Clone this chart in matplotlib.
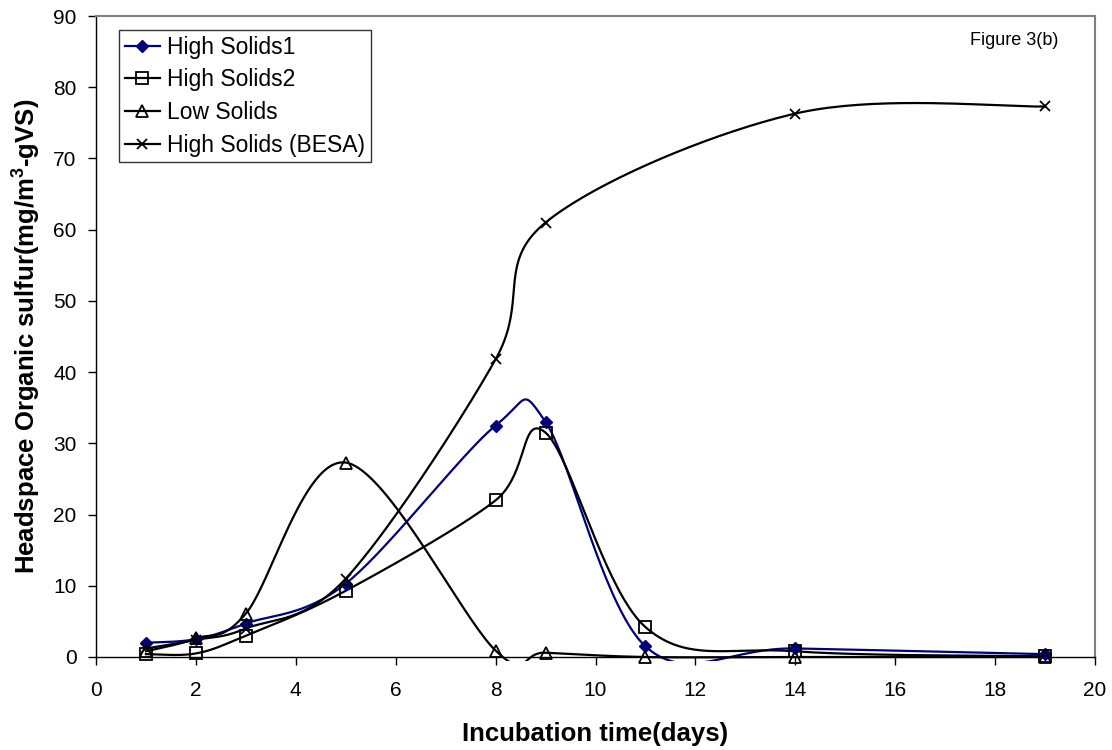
import numpy as np
import matplotlib
matplotlib.use("Agg")
import matplotlib.pyplot as plt
from matplotlib.patches import Rectangle

plt.rcParams['font.family'] = ['Liberation Sans', 'DejaVu Sans']

days_hs1 = [1, 2, 3, 5, 8, 9, 11, 14, 19]
high_solids1 = [2.0, 2.5, 4.7, 10.3, 32.5, 33.0, 1.5, 1.2, 0.4]
days_hs2 = [1, 2, 3, 5, 8, 9, 11, 14, 19]
high_solids2 = [0.4, 0.5, 3.0, 9.3, 22.0, 31.5, 4.2, 0.8, 0.1]
days_ls = [1, 2, 3, 5, 8, 9, 11, 14, 19]
low_solids = [0.8, 2.6, 6.1, 27.3, 0.9, 0.6, 0.0, 0.0, 0.0]
days_besa = [1, 2, 3, 5, 8, 9, 14, 19]
high_solids_besa = [1.2, 2.4, 4.0, 11.0, 41.8, 61.0, 76.3, 77.3]

xticks = list(range(0, 21, 2))
yticks = list(range(0, 91, 10))

AX_L, AX_R, AX_T, AX_B = 96, 1095, 16, 657


def smooth(x, y, n=40):
    # Excel-like smoothed line: cubic Bezier with Catmull-Rom style control points
    x = np.asarray(x, float)
    y = np.asarray(y, float)
    sx, sy = (AX_R - AX_L) / 20.0, (AX_B - AX_T) / 90.0
    P = np.column_stack([x * sx, y * sy])
    out = [P[0]]
    m = len(P)
    for i in range(m - 1):
        p0 = P[i - 1] if i > 0 else P[i]
        p1 = P[i]
        p2 = P[i + 1]
        p3 = P[i + 2] if i + 2 < m else P[i + 1]
        c1 = p1 + (p2 - p0) / 6.0
        c2 = p2 - (p3 - p1) / 6.0
        t = np.linspace(0, 1, n)[1:, None]
        seg = ((1 - t) ** 3) * p1 + 3 * ((1 - t) ** 2) * t * c1 + 3 * (1 - t) * t ** 2 * c2 + t ** 3 * p2
        out.extend(seg)
    out = np.array(out)
    return out[:, 0] / sx, out[:, 1] / sy


fig = plt.figure(figsize=(11.12, 7.5), dpi=100)
ax = fig.add_axes([AX_L / 1112, 1 - AX_B / 750, (AX_R - AX_L) / 1112, (AX_B - AX_T) / 750])

clip_rect = Rectangle((0, -0.006), 1, 1.006, transform=ax.transAxes, facecolor='none', edgecolor='none')
ax.add_patch(clip_rect)

series = [
    (days_hs1, high_solids1, 'High Solids1', '#000080', dict(marker='D', markersize=6, markerfacecolor='#000080', markeredgecolor='#000080')),
    (days_hs2, high_solids2, 'High Solids2', 'black', dict(marker='s', markersize=8, markerfacecolor='none', markeredgecolor='black', markeredgewidth=1.3)),
    (days_ls, low_solids, 'Low Solids', 'black', dict(marker='^', markersize=8, markerfacecolor='none', markeredgecolor='black', markeredgewidth=1.3)),
    (days_besa, high_solids_besa, 'High Solids (BESA)', 'black', dict(marker='x', markersize=7, markeredgecolor='black', markeredgewidth=1.3)),
]

handles = []
for xs, ys, label, col, mk in series:
    sx_, sy_ = smooth(xs, ys)
    ln, = ax.plot(sx_, sy_, color=col, lw=1.6, zorder=2)
    ln.set_clip_path(clip_rect)
    ax.plot(xs, ys, linestyle='none', zorder=3, clip_on=False, **mk)
    h, = ax.plot([], [], color=col, lw=1.6, **mk)
    h.set_label(label)
    handles.append(h)

ax.set_xlim(0, 20)
ax.set_ylim(0, 90)
ax.set_xticks(xticks)
ax.set_yticks(yticks)
ax.tick_params(axis='both', direction='out', length=6, width=1, labelsize=15, colors='black')
ax.tick_params(axis='x', pad=11)
ax.tick_params(axis='y', pad=8)
for s in ['left', 'bottom']:
    ax.spines[s].set_color('black')
    ax.spines[s].set_linewidth(1)
for s in ['top', 'right']:
    ax.spines[s].set_color('#808080')
    ax.spines[s].set_linewidth(1.5)

ax.set_xlabel('Incubation time(days)', fontsize=18.5, fontweight='bold', labelpad=16)
ax.set_ylabel('Headspace Organic sulfur(mg/m$^{\\mathregular{3}}$-gVS)', fontsize=18.5, fontweight='bold', labelpad=8)

leg = ax.legend(handles=handles, loc='upper left',
                bbox_to_anchor=((119 - AX_L) / (AX_R - AX_L), 1 - (30 - AX_T) / (AX_B - AX_T)),
                fontsize=16.5, frameon=True, fancybox=False, handlelength=1.55, handletextpad=0.3,
                borderpad=0.25, labelspacing=0.42, borderaxespad=0)
leg.get_frame().set_edgecolor('black')
leg.get_frame().set_linewidth(1)

ax.text((1058 - AX_L) / (AX_R - AX_L), 1 - (32 - AX_T) / (AX_B - AX_T), 'Figure 3(b)',
        transform=ax.transAxes, ha='right', va='top', fontsize=13)

fig.savefig('out.png', dpi=100)
